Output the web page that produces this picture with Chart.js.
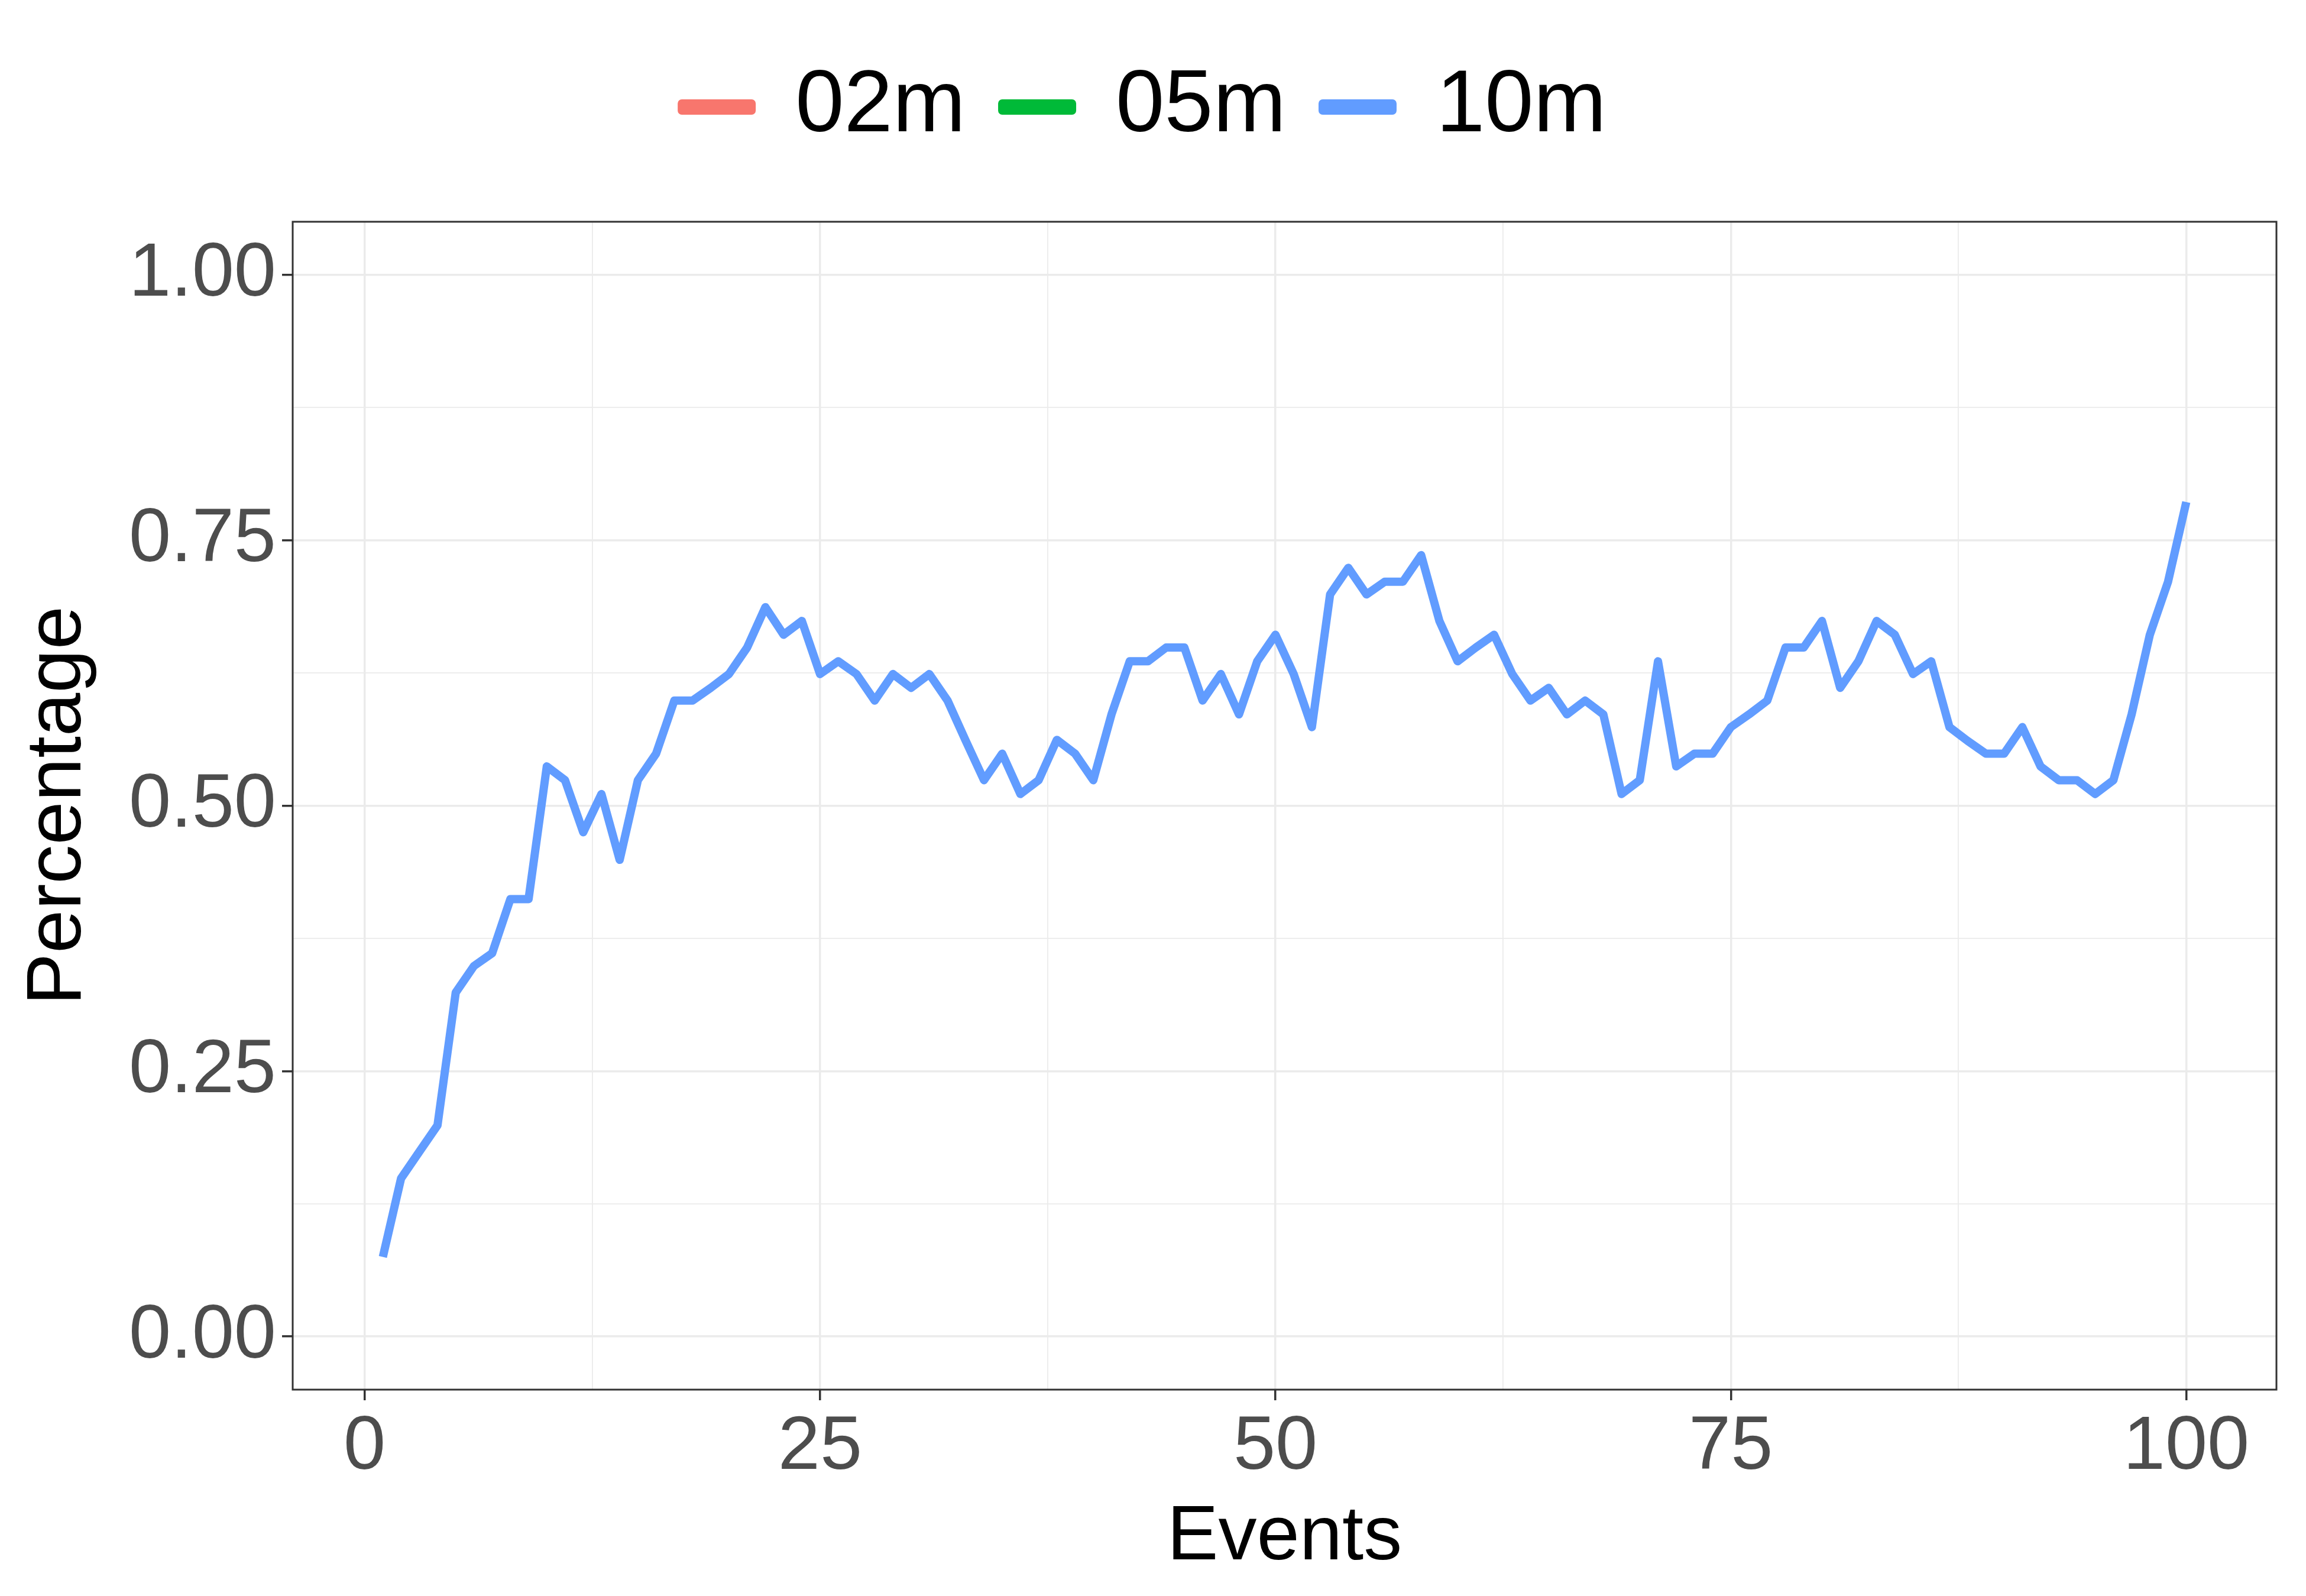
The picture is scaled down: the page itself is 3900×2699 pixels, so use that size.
<!DOCTYPE html>
<html>
<head>
    <meta charset="UTF-8">
    <title>Percentage by events</title>
    <script src="https://cdn.jsdelivr.net/npm/chart.js"></script>
    <style>
        body { margin: 0; background: #fff; }
        #wrap { width: 3900px; height: 2699px; }
    </style>
</head>
<body>
    <div id="wrap"><canvas id="myChart"></canvas></div>
    <script>
        // data
        const events = Array.from({length: 100}, (_, i) => i + 1);
        const series02m = [];
        const series05m = [];
        const series10m = [
            0.075, 0.149, 0.174, 0.199, 0.324, 0.349, 0.361, 0.412, 0.412, 0.537,
            0.524, 0.475, 0.511, 0.449, 0.524, 0.549, 0.599, 0.599, 0.611, 0.624,
            0.649, 0.687, 0.661, 0.674, 0.624, 0.636, 0.624, 0.599, 0.624, 0.611,
            0.624, 0.599, 0.561, 0.524, 0.549, 0.511, 0.524, 0.562, 0.549, 0.524,
            0.586, 0.636, 0.636, 0.649, 0.649, 0.599, 0.624, 0.586, 0.636, 0.661,
            0.624, 0.574, 0.699, 0.724, 0.699, 0.711, 0.711, 0.736, 0.674, 0.636,
            0.649, 0.661, 0.624, 0.599, 0.611, 0.586, 0.599, 0.586, 0.511, 0.524,
            0.636, 0.537, 0.549, 0.549, 0.574, 0.586, 0.599, 0.649, 0.649, 0.674,
            0.611, 0.636, 0.674, 0.661, 0.624, 0.636, 0.574, 0.561, 0.549, 0.549,
            0.574, 0.537, 0.524, 0.524, 0.511, 0.524, 0.586, 0.661, 0.711, 0.786
        ];
        const xTicks = [0, 12.5, 25, 37.5, 50, 62.5, 75, 87.5, 100];
        const yTicks = [0, 0.125, 0.25, 0.375, 0.5, 0.625, 0.75, 0.875, 1];
        const xLabels = [0, 25, 50, 75, 100];
        const yLabels = [0, 0.25, 0.5, 0.75, 1];

        const toPoints = vals => vals.map((v, i) => ({x: events[i], y: v}));
        const isMajor = (v, list) => list.some(m => Math.abs(m - v) < 1e-9);

        // panel border on all four sides, like ggplot theme_bw
        const panelBorder = {
            id: 'panelBorder',
            afterDraw(chart) {
                const a = chart.chartArea, c = chart.ctx;
                c.save();
                c.strokeStyle = '#333333';
                c.lineWidth = 3;
                c.strokeRect(a.left, a.top, a.right - a.left, a.bottom - a.top);
                c.restore();
            }
        };

        // extra room below the legend
        const legendGap = {
            id: 'legendGap',
            beforeUpdate(chart) {
                const lg = chart.legend;
                if (lg && !lg._gapPatched) {
                    const fit = lg.fit;
                    lg.fit = function () { fit.call(this); this.height += 110; };
                    lg._gapPatched = true;
                }
            }
        };

        const ctx = document.getElementById('myChart').getContext('2d');
        const chart = new Chart(ctx, {
            type: 'line',
            data: {
                datasets: [
                    { label: '02m', data: toPoints(series02m), borderColor: '#F8766D', backgroundColor: '#F8766D' },
                    { label: '05m', data: toPoints(series05m), borderColor: '#00BA38', backgroundColor: '#00BA38' },
                    { label: '10m', data: toPoints(series10m), borderColor: '#619CFF', backgroundColor: '#619CFF' }
                ]
            },
            options: {
                responsive: true,
                maintainAspectRatio: false,
                devicePixelRatio: 1,
                animation: false,
                elements: {
                    line: { borderWidth: 14, tension: 0, borderJoinStyle: 'round' },
                    point: { radius: 0 }
                },
                layout: { padding: { left: 20, right: 50, top: 45, bottom: 20 } },
                plugins: {
                    legend: {
                        display: true,
                        position: 'top',
                        labels: {
                            color: '#000000',
                            font: { family: 'Liberation Sans', size: 148 },
                            boxWidth: 118,
                            boxHeight: 12,
                            padding: 62
                        }
                    },
                    tooltip: { enabled: false }
                },
                scales: {
                    x: {
                        type: 'linear',
                        min: -3.95,
                        max: 104.95,
                        afterBuildTicks: s => { s.ticks = xTicks.map(v => ({value: v})); },
                        afterFit: s => { s.height = 329; },
                        border: { display: false },
                        grid: {
                            color: '#EBEBEB',
                            lineWidth: c => isMajor(c.tick.value, xLabels) ? 3.5 : 1.8,
                            tickColor: c => isMajor(c.tick.value, xLabels) ? '#333333' : 'rgba(0,0,0,0)',
                            tickLength: 18
                        },
                        ticks: {
                            autoSkip: false,
                            maxRotation: 0,
                            padding: 4,
                            color: '#4D4D4D',
                            font: { family: 'Liberation Sans', size: 128 },
                            callback: v => isMajor(v, xLabels) ? String(v) : ''
                        },
                        title: {
                            display: true,
                            text: 'Events',
                            color: '#000000',
                            font: { family: 'Liberation Sans', size: 130 },
                            padding: { top: 0, bottom: 0 }
                        }
                    },
                    y: {
                        type: 'linear',
                        min: -0.05,
                        max: 1.05,
                        afterBuildTicks: s => { s.ticks = yTicks.map(v => ({value: v})); },
                        afterFit: s => { s.width = 475; },
                        border: { display: false },
                        grid: {
                            color: '#EBEBEB',
                            lineWidth: c => isMajor(c.tick.value, yLabels) ? 3.5 : 1.8,
                            tickColor: c => isMajor(c.tick.value, yLabels) ? '#333333' : 'rgba(0,0,0,0)',
                            tickLength: 18
                        },
                        ticks: {
                            autoSkip: false,
                            padding: 10,
                            color: '#4D4D4D',
                            font: { family: 'Liberation Sans', size: 128 },
                            callback: v => isMajor(v, yLabels) ? v.toFixed(2) : ''
                        },
                        title: {
                            display: true,
                            text: 'Percentage',
                            color: '#000000',
                            font: { family: 'Liberation Sans', size: 132 },
                            padding: { top: 0, bottom: 10 }
                        }
                    }
                }
            },
            plugins: [panelBorder, legendGap]
        });
    </script>
</body>
</html>
